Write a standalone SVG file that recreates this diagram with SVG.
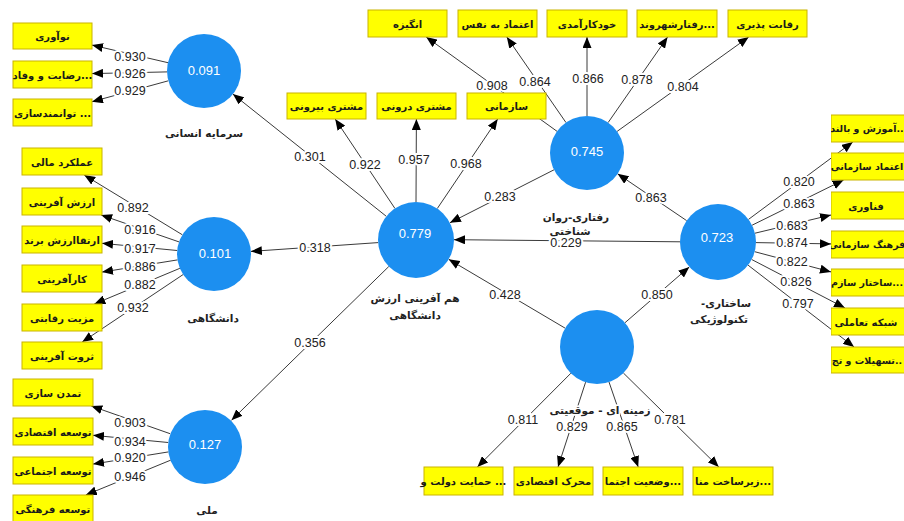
<svg xmlns="http://www.w3.org/2000/svg" width="904" height="521" viewBox="0 0 904 521">
<style>
.bg{fill:#ffffff}
.box{fill:#FFFF00;stroke:#C9B400;stroke-width:1}
.bt{font-family:"DejaVu Sans",sans-serif;font-size:10px;font-weight:bold;fill:#1a1a1a;text-anchor:middle}
.rt{font-family:"DejaVu Sans",sans-serif;font-size:9.5px;font-weight:bold;fill:#1a1a1a;text-anchor:middle}
.lat{fill:#1C8FF0}
.val{font-family:"Liberation Sans",Arial,sans-serif;font-size:13px;fill:#ffffff;text-anchor:middle}
.lbl{font-family:"DejaVu Sans",sans-serif;font-size:10.5px;font-weight:bold;fill:#222222;text-anchor:middle;stroke:#ffffff;stroke-width:3;paint-order:stroke}
.ln{stroke:#3a3a3a;stroke-width:1;fill:none;marker-end:url(#arr)}
.num{font-family:"Liberation Sans",Arial,sans-serif;font-size:12.5px;fill:#222222;text-anchor:middle;stroke:#ffffff;stroke-width:4;paint-order:stroke}
</style>
<defs>
<marker id="arr" markerWidth="11" markerHeight="9" refX="11" refY="4.5" orient="auto" markerUnits="userSpaceOnUse"><path d="M0,0 L11,4.5 L0,9 z" fill="#000000"/></marker>
<clipPath id="rc"><rect x="831" y="100" width="73" height="290"/></clipPath>
</defs>
<rect class="bg" x="0" y="0" width="904" height="521"/>

<g id="connectors">
<path class="ln" d="M168,62.7 L92,45.1"/>
<path class="ln" d="M167,71.9 L92,73.6"/>
<path class="ln" d="M168.3,80.8 L92,101.7"/>
<path class="ln" d="M182.4,234.8 L84.2,175"/>
<path class="ln" d="M179,241.9 L101.1,215"/>
<path class="ln" d="M177.2,250.5 L102,243.3"/>
<path class="ln" d="M177.5,259.9 L102,272.1"/>
<path class="ln" d="M179.9,268.3 L94.3,304"/>
<path class="ln" d="M183.2,274.5 L82.2,342"/>
<path class="ln" d="M170.1,433.7 L91.3,406"/>
<path class="ln" d="M168.2,442.5 L93,435.3"/>
<path class="ln" d="M168.5,451.9 L93,464.1"/>
<path class="ln" d="M170.8,460.1 L85.8,495"/>
<path class="ln" d="M394.9,208.4 L335.2,119"/>
<path class="ln" d="M416,202 L416.4,119"/>
<path class="ln" d="M437.3,208.5 L497.7,119"/>
<path class="ln" d="M557,131.3 L426.2,37"/>
<path class="ln" d="M566,122.6 L506.8,37"/>
<path class="ln" d="M587,116 L587,37"/>
<path class="ln" d="M608.1,122.6 L667.6,37"/>
<path class="ln" d="M617.1,131.4 L748.7,37"/>
<path class="ln" d="M748.5,219.4 L852.8,142"/>
<path class="ln" d="M752.1,225.2 L843.6,180"/>
<path class="ln" d="M755,233.2 L831,215"/>
<path class="ln" d="M756,242.6 L831,243.9"/>
<path class="ln" d="M754.7,251.7 L831,271.9"/>
<path class="ln" d="M751.7,259.5 L845,308"/>
<path class="ln" d="M748.1,265.2 L854.1,347"/>
<path class="ln" d="M570.9,373.2 L477.4,467"/>
<path class="ln" d="M585.6,382.2 L558,467"/>
<path class="ln" d="M609,382 L638.2,467"/>
<path class="ln" d="M623.4,373 L718.8,467"/>
<path class="ln" d="M386.3,216.3 L232.9,94.1"/>
<path class="ln" d="M378.1,242.6 L250.9,251.4"/>
<path class="ln" d="M388.8,266.5 L231.5,420.2"/>
<path class="ln" d="M554,169.8 L449.9,222.8"/>
<path class="ln" d="M680,241.8 L454,239.7"/>
<path class="ln" d="M565.2,328.2 L448.7,259.3"/>
<path class="ln" d="M625,322.7 L689.3,266.9"/>
<path class="ln" d="M686.6,220.6 L617.6,173.8"/>
<g id="path-labels">
<text class="num" x="130" y="61">0.930</text>
<text class="num" x="130" y="78">0.926</text>
<text class="num" x="130" y="95">0.929</text>
<text class="num" x="133" y="212">0.892</text>
<text class="num" x="140" y="234">0.916</text>
<text class="num" x="140" y="253">0.917</text>
<text class="num" x="140" y="271">0.886</text>
<text class="num" x="140" y="289">0.882</text>
<text class="num" x="133" y="312">0.932</text>
<text class="num" x="130" y="427">0.903</text>
<text class="num" x="130" y="446">0.934</text>
<text class="num" x="130" y="462">0.920</text>
<text class="num" x="130" y="481">0.946</text>
<text class="num" x="365" y="169">0.922</text>
<text class="num" x="414" y="164">0.957</text>
<text class="num" x="466" y="168">0.968</text>
<text class="num" x="492" y="90">0.908</text>
<text class="num" x="535" y="86">0.864</text>
<text class="num" x="588" y="83">0.866</text>
<text class="num" x="637" y="84">0.878</text>
<text class="num" x="683" y="91">0.804</text>
<text class="num" x="799" y="186">0.820</text>
<text class="num" x="799" y="208">0.863</text>
<text class="num" x="792" y="230">0.683</text>
<text class="num" x="792" y="247">0.874</text>
<text class="num" x="792" y="266">0.822</text>
<text class="num" x="796" y="286">0.826</text>
<text class="num" x="798" y="308">0.797</text>
<text class="num" x="523" y="424">0.811</text>
<text class="num" x="572" y="431">0.829</text>
<text class="num" x="622" y="431">0.865</text>
<text class="num" x="670" y="424">0.781</text>
<text class="num" x="310" y="161">0.301</text>
<text class="num" x="315" y="252">0.318</text>
<text class="num" x="310" y="347">0.356</text>
<text class="num" x="500" y="201">0.283</text>
<text class="num" x="566" y="247">0.229</text>
<text class="num" x="505" y="299">0.428</text>
<text class="num" x="657" y="299">0.850</text>
<text class="num" x="651" y="202">0.863</text>
</g>
</g>

<g id="n-ensani">
<circle class="lat" cx="204" cy="71" r="37"/>
<text class="val" x="204" y="75">0.091</text>
<text class="lbl" x="204" y="137">سرمایه انسانی</text>
</g>
<g id="n-daneshgahi">
<circle class="lat" cx="214" cy="254" r="37"/>
<text class="val" x="215" y="258">0.101</text>
<text class="lbl" x="213" y="322">دانشگاهی</text>
</g>
<g id="n-melli">
<circle class="lat" cx="205" cy="447" r="37"/>
<text class="val" x="205" y="449">0.127</text>
<text class="lbl" x="207" y="514">ملی</text>
</g>
<g id="n-hamafarini">
<circle class="lat" cx="416" cy="240" r="38"/>
<text class="val" x="415" y="238">0.779</text>
<text class="lbl" x="415" y="302">هم آفرینی ارزش</text>
<text class="lbl" x="415" y="319">دانشگاهی</text>
</g>
<g id="n-raftari">
<circle class="lat" cx="587" cy="153" r="37"/>
<text class="val" x="587" y="156">0.745</text>
<text class="lbl" x="576" y="221">رفتاری-روان</text>
<text class="lbl" x="570" y="235">شناختی</text>
</g>
<g id="n-sakhtari">
<circle class="lat" cx="718" cy="242" r="38"/>
<text class="val" x="717" y="242">0.723</text>
<text class="lbl" x="726" y="307">-ساختاری</text>
<text class="lbl" x="719" y="323">تکنولوژیکی</text>
</g>
<g id="n-zamine">
<circle class="lat" cx="597" cy="347" r="37"/>
<text class="lbl" x="600" y="414">زمینه ای - موقعیتی</text>
</g>

<g id="i-noavari"><rect class="box" x="13" y="23" width="79" height="26"/><text class="bt" x="52.5" y="40">نوآوری</text></g>
<g id="i-rezayat"><rect class="box" x="13" y="61" width="79" height="27"/><text class="bt" x="52.5" y="78.5">رضایت و وفاد...</text></g>
<g id="i-tavanmand"><rect class="box" x="13" y="99" width="79" height="27"/><text class="bt" x="52.5" y="116.5">توانمندسازی ...</text></g>

<g id="i-amalkard"><rect class="box" x="22" y="148" width="80" height="27"/><text class="bt" x="62" y="165.5">عملکرد مالی</text></g>
<g id="i-arzesh"><rect class="box" x="22" y="188" width="80" height="27"/><text class="bt" x="62" y="205.5">ارزش آفرینی</text></g>
<g id="i-ertegha"><rect class="box" x="22" y="226" width="80" height="27"/><text class="bt" x="62" y="243.5">ارتقاارزش برند</text></g>
<g id="i-karafarini"><rect class="box" x="22" y="265" width="80" height="27"/><text class="bt" x="62" y="282.5">کارآفرینی</text></g>
<g id="i-mazit"><rect class="box" x="22" y="304" width="80" height="27"/><text class="bt" x="62" y="321.5">مزیت رقابتی</text></g>
<g id="i-servat"><rect class="box" x="22" y="342" width="80" height="27"/><text class="bt" x="62" y="359.5">ثروت آفرینی</text></g>

<g id="i-tamadon"><rect class="box" x="13" y="379" width="80" height="27"/><text class="bt" x="53" y="396.5">تمدن سازی</text></g>
<g id="i-eghtesadi"><rect class="box" x="13" y="418" width="80" height="27"/><text class="bt" x="53" y="435.5">توسعه اقتصادی</text></g>
<g id="i-ejtemaei"><rect class="box" x="13" y="457" width="80" height="27"/><text class="bt" x="53" y="474.5">توسعه اجتماعی</text></g>
<g id="i-farhangi"><rect class="box" x="13" y="495" width="80" height="27"/><text class="bt" x="53" y="512.5">توسعه فرهنگی</text></g>

<g id="i-biruni"><rect class="box" x="287" y="93" width="79" height="26"/><text class="bt" x="326.5" y="110">مشتری بیرونی</text></g>
<g id="i-daruni"><rect class="box" x="377" y="93" width="79" height="26"/><text class="bt" x="416.5" y="110">مشتری درونی</text></g>
<g id="i-sazmani"><rect class="box" x="467" y="93" width="79" height="26"/><text class="bt" x="506.5" y="110">سازمانی</text></g>

<g id="i-angize"><rect class="box" x="368" y="10" width="79" height="27"/><text class="bt" x="407.5" y="27.5">انگیزه</text></g>
<g id="i-etemad"><rect class="box" x="458" y="10" width="79" height="27"/><text class="bt" x="497.5" y="27.5">اعتماد به نفس</text></g>
<g id="i-khodkar"><rect class="box" x="547" y="10" width="80" height="27"/><text class="bt" x="587" y="27.5">خودکارآمدی</text></g>
<g id="i-shahrvand"><rect class="box" x="637" y="10" width="80" height="27"/><text class="bt" x="677" y="27.5">رفتارشهروند...</text></g>
<g id="i-reghabat"><rect class="box" x="728" y="10" width="79" height="27"/><text class="bt" x="767.5" y="27.5">رقابت پذیری</text></g>

<g id="right-col" clip-path="url(#rc)">
<g id="i-amuzesh"><rect class="box" x="831" y="115" width="80" height="27"/><text class="rt" x="867" y="132">آموزش و بالند..</text></g>
<g id="i-etemadsaz"><rect class="box" x="831" y="153" width="80" height="27"/><text class="rt" x="867" y="170">اعتماد سازمانی</text></g>
<g id="i-fanavari"><rect class="box" x="831" y="192" width="80" height="27"/><text class="bt" x="866" y="209.5">فناوری</text></g>
<g id="i-farhangsaz"><rect class="box" x="831" y="231" width="80" height="27"/><text class="rt" x="867" y="248">فرهنگ سازمانی</text></g>
<g id="i-sakhtar"><rect class="box" x="831" y="269" width="80" height="27"/><text class="rt" x="867" y="286">ساختار سازم...</text></g>
<g id="i-shabake"><rect class="box" x="831" y="308" width="80" height="27"/><text class="bt" x="866" y="325.5">شبکه تعاملی</text></g>
<g id="i-tashilat"><rect class="box" x="831" y="347" width="80" height="26"/><text class="rt" x="867" y="364">تسهیلات و تج..</text></g>
</g>

<g id="i-hemayat"><rect class="box" x="424" y="467" width="79" height="28"/><text class="bt" x="463.5" y="485">حمایت دولت و ...</text></g>
<g id="i-moharek"><rect class="box" x="514" y="467" width="79" height="28"/><text class="bt" x="553.5" y="485">محرک اقتصادی</text></g>
<g id="i-vaziat"><rect class="box" x="603" y="467" width="80" height="28"/><text class="bt" x="643" y="485">وضعیت اجتما...</text></g>
<g id="i-zirsakht"><rect class="box" x="693" y="467" width="80" height="28"/><text class="bt" x="733" y="485">زیرساخت منا...</text></g>
</svg>
